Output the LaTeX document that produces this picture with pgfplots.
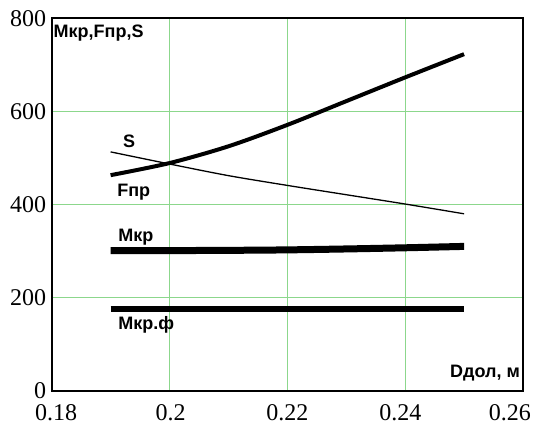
\documentclass[border=0pt]{standalone}
\usepackage{pgfplots}
\pgfplotsset{compat=1.18}
\usepackage{fontspec}
\setmainfont{Liberation Serif}
\newfontfamily\labfont{Liberation Sans}
\definecolor{gridgreen}{RGB}{140,215,140}
\newcommand\lbl{\labfont\bfseries\fontsize{18}{18}\selectfont}
\begin{document}
\begin{tikzpicture}
\useasboundingbox (-51.7pt,-36.3pt) rectangle (482.3pt,390.7pt);
\begin{axis}[
  at={(0,0)}, anchor=south west,
  scale only axis, width=471.3pt, height=372.4pt,
  xmin=0.18, xmax=0.26, ymin=0, ymax=800,
  xtick={0.18,0.2,0.22,0.24,0.26},
  xticklabels={\makebox[0pt]{\hspace*{8.6pt}0.18},\makebox[0pt]{\hspace*{2pt}0.2},0.22,\makebox[0pt]{\hspace*{-9.4pt}0.24},\makebox[0pt]{\hspace*{-26pt}0.26}},
  ytick={0,200,400,600,800},
  yticklabels={0,200,400,600,800},
  grid=major, major grid style={gridgreen, line width=0.8pt},
  major tick length=0pt,
  axis line style={line width=1.7pt},
  tick label style={font=\fontsize{24}{26}\selectfont},
  xticklabel style={anchor=base, yshift=-29.3pt},
  yticklabel style={anchor=east, xshift=-2pt},
  /pgf/number format/assume math mode=true,
  every axis plot/.append style={black},
]
% F_pr
\addplot[line width=4pt, smooth] coordinates {
(0.19,463) (0.20,489) (0.21,525) (0.22,571) (0.23,622) (0.24,673) (0.25,723)};
% S
\addplot[line width=1.3pt, smooth] coordinates {
(0.19,513) (0.20,487) (0.21,462) (0.22,441) (0.23,421) (0.24,401) (0.25,380)};
% M_kr
\addplot[line width=7pt, smooth] coordinates {
(0.19,301) (0.20,301) (0.21,301.5) (0.22,302.5) (0.23,304.5) (0.24,307) (0.25,310)};
% M_kr.f
\addplot[line width=5.5pt] coordinates {
(0.19,175) (0.25,175)};

\node[anchor=base west, inner sep=0, font=\lbl] at (axis cs:0.1803,759) {Mкр,Fпр,S};
\node[anchor=base west, inner sep=0, font=\lbl] at (axis cs:0.1921,523) {S};
\node[anchor=base west, inner sep=0, font=\lbl] at (axis cs:0.1911,417) {Fпр};
\node[anchor=base west, inner sep=0, font=\lbl] at (axis cs:0.1913,320) {Mкр};
\node[anchor=base west, inner sep=0, font=\lbl] at (axis cs:0.1913,131) {Mкр.ф};
\node[anchor=base east, inner sep=0, font=\lbl] at (axis cs:0.2595,27.3) {Dдол, м};
\end{axis}
\end{tikzpicture}
\end{document}
